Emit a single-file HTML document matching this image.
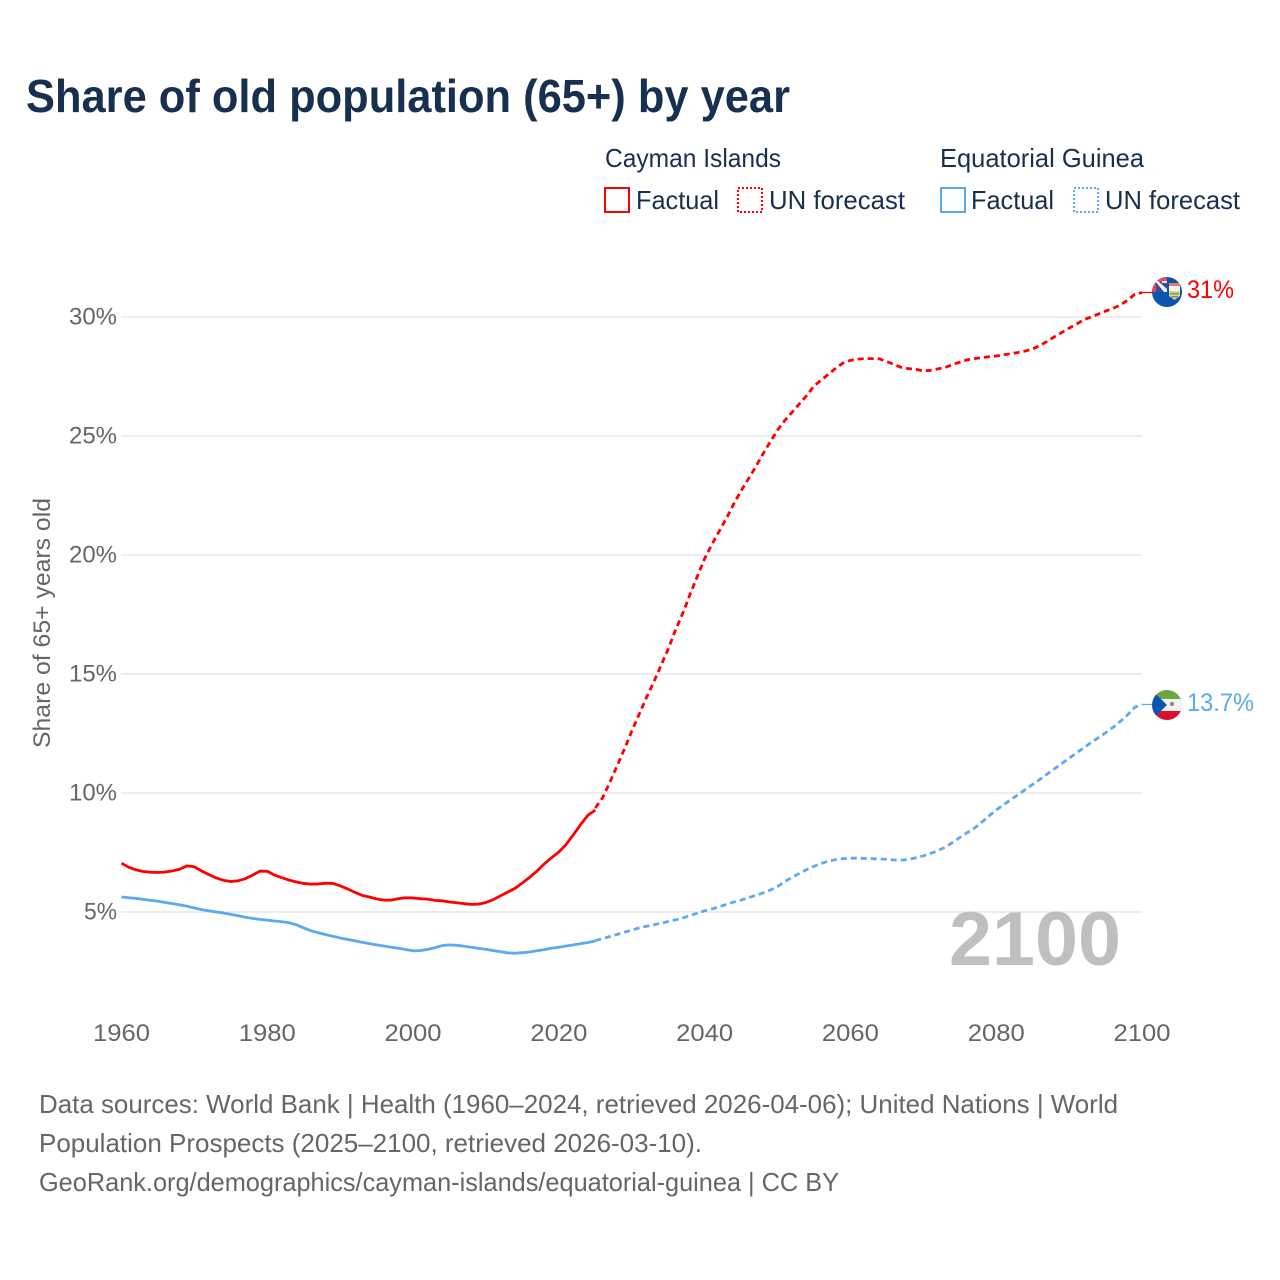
<!DOCTYPE html>
<html lang="en">
<head>
<meta charset="utf-8">
<title>Share of old population (65+) by year</title>
<style>
html,body{margin:0;padding:0;background:#fff;}
svg{display:block;}
text{font-family:"Liberation Sans",sans-serif;}
</style>
</head>
<body>
<svg id="chart" xmlns="http://www.w3.org/2000/svg" width="1280" height="1280" viewBox="0 0 1280 1280">
  <defs>
    <clipPath id="clip-ky"><circle cx="1167" cy="292" r="15"/></clipPath>
    <clipPath id="clip-gq"><circle cx="1167" cy="705" r="15"/></clipPath>
  </defs>
  <rect width="1280" height="1280" fill="#fff"/>
  <text x="26" y="112" font-size="46" font-weight="bold" fill="#18304f" textLength="764" lengthAdjust="spacingAndGlyphs">Share of old population (65+) by year</text>

  <g fill="#18304f" font-size="26">
    <text x="605" y="167" textLength="176" lengthAdjust="spacingAndGlyphs">Cayman Islands</text>
    <rect x="605" y="188" width="24" height="24" fill="none" stroke="#ff0000" stroke-width="2"/>
    <text x="636" y="209" textLength="83" lengthAdjust="spacingAndGlyphs">Factual</text>
    <rect x="738" y="188" width="24" height="24" fill="none" stroke="#ff0000" stroke-width="2" stroke-dasharray="2 2"/>
    <text x="769" y="209" textLength="136" lengthAdjust="spacingAndGlyphs">UN forecast</text>
    <text x="940" y="167" textLength="204" lengthAdjust="spacingAndGlyphs">Equatorial Guinea</text>
    <rect x="941" y="188" width="24" height="24" fill="none" stroke="#5ea8ee" stroke-width="2"/>
    <text x="971" y="209" textLength="83" lengthAdjust="spacingAndGlyphs">Factual</text>
    <rect x="1074" y="188" width="24" height="24" fill="none" stroke="#5ea8ee" stroke-width="2" stroke-dasharray="2 2"/>
    <text x="1105" y="209" textLength="135" lengthAdjust="spacingAndGlyphs">UN forecast</text>
  </g>

  <text transform="translate(50,623) rotate(-90)" text-anchor="middle" font-size="24" fill="#666" textLength="250" lengthAdjust="spacingAndGlyphs">Share of 65+ years old</text>

  <g id="grid"></g>
  <g id="yticks"></g>
  <g id="xticks"></g>

  <text x="949" y="965" font-size="76" font-weight="bold" fill="#bfbfbf" textLength="172" lengthAdjust="spacingAndGlyphs">2100</text>

  <g id="series"></g>

  <g clip-path="url(#clip-ky)">
    <rect x="1152" y="277" width="30" height="30" fill="#0a55ad"/>
    <rect x="1152" y="277" width="15" height="15" fill="#dd4a60"/>
    <rect x="1156" y="282" width="11" height="10" fill="#34508f"/>
    <path d="M1155 281H1158L1167 289V292H1164Z" fill="#f3eef0"/>
    <path d="M1162 281H1167V283H1162Z" fill="#f0dfe3"/>
    <rect x="1169" y="283" width="11" height="3" fill="#e87a6e"/>
    <rect x="1169" y="286" width="11" height="5" fill="#f4f4f4"/>
    <path d="M1169 291H1180V296L1174.5 300L1169 296Z" fill="#ecd75a"/>
    <rect x="1170" y="293" width="9" height="1.4" fill="#5a8fd0"/>
    <rect x="1171" y="296" width="7" height="1.4" fill="#5a8fd0"/>
  </g>
  <g clip-path="url(#clip-gq)">
    <rect x="1152" y="690" width="30" height="9" fill="#6ea644"/>
    <rect x="1152" y="699" width="30" height="12" fill="#f2f2f2"/>
    <rect x="1152" y="711" width="30" height="9" fill="#dc0f2f"/>
    <path d="M1152 690L1167 705L1152 720Z" fill="#0a55ad"/>
    <circle cx="1172" cy="704" r="2" fill="#7d8a72"/>
  </g>

  <text x="1187" y="298" font-size="25" fill="#ff0000" textLength="47" lengthAdjust="spacingAndGlyphs">31%</text>
  <text x="1187" y="711" font-size="25" fill="#5ea8ee" textLength="67" lengthAdjust="spacingAndGlyphs">13.7%</text>

  <g font-size="26" fill="#666">
    <text x="39" y="1113" textLength="1079" lengthAdjust="spacingAndGlyphs">Data sources: World Bank | Health (1960–2024, retrieved 2026-04-06); United Nations | World</text>
    <text x="39" y="1152" textLength="663" lengthAdjust="spacingAndGlyphs">Population Prospects (2025–2100, retrieved 2026-03-10).</text>
    <text x="39" y="1191" textLength="800" lengthAdjust="spacingAndGlyphs">GeoRank.org/demographics/cayman-islands/equatorial-guinea | CC BY</text>
  </g>
</svg>
<script>
const yTickValues = [5, 10, 15, 20, 25, 30];
const xTickYears = [1960, 1980, 2000, 2020, 2040, 2060, 2080, 2100];
const factualStartYear = 1960;
const forecastStartYear = 2025;
const caymanFactual = [
  7.05,6.88,6.77,6.70,6.67,6.66,6.68,6.73,6.80,6.94,
  6.90,6.72,6.57,6.43,6.33,6.28,6.31,6.40,6.55,6.72,
  6.71,6.55,6.44,6.34,6.26,6.20,6.17,6.18,6.21,6.20,
  6.10,5.97,5.83,5.70,5.63,5.55,5.50,5.50,5.56,5.60,
  5.59,5.56,5.54,5.49,5.47,5.42,5.39,5.35,5.32,5.33,
  5.40,5.52,5.68,5.84,6.00,6.22,6.46,6.72,7.02,7.28,
  7.52,7.84,8.25,8.68,9.07,9.28
];
const caymanForecast = [
  9.37,9.80,10.45,11.15,11.85,
  12.60,13.30,14.00,14.65,15.35,16.05,16.85,17.55,18.35,19.10,
  19.85,20.45,21.00,21.55,22.15,22.70,23.20,23.70,24.25,24.75,
  25.25,25.65,26.00,26.35,26.70,27.10,27.35,27.60,27.85,28.07,
  28.18,28.23,28.25,28.25,28.24,28.13,28.00,27.88,27.83,27.80,
  27.73,27.76,27.82,27.88,28.00,28.10,28.20,28.25,28.29,28.33,
  28.36,28.41,28.46,28.51,28.57,28.66,28.80,28.98,29.17,29.35,
  29.53,29.70,29.88,30.00,30.12,30.25,30.36,30.50,30.70,30.95,
  31.03
];
const guineaFactual = [
  5.63,5.60,5.57,5.53,5.49,5.45,5.40,5.35,5.30,5.24,
  5.17,5.10,5.05,5.00,4.96,4.90,4.84,4.78,4.73,4.69,
  4.66,4.62,4.59,4.55,4.46,4.33,4.21,4.13,4.05,3.98,
  3.91,3.85,3.79,3.73,3.67,3.62,3.57,3.52,3.48,3.42,
  3.37,3.38,3.43,3.50,3.59,3.62,3.60,3.56,3.52,3.47,
  3.43,3.38,3.33,3.28,3.27,3.29,3.32,3.37,3.42,3.48,
  3.52,3.57,3.62,3.67,3.72,3.78
];
const guineaForecast = [
  3.80,3.88,3.97,4.06,4.15,
  4.24,4.33,4.40,4.46,4.53,4.60,4.67,4.75,4.85,4.95,
  5.05,5.13,5.22,5.32,5.42,5.50,5.60,5.70,5.80,5.92,
  6.07,6.28,6.46,6.62,6.78,6.92,7.04,7.14,7.20,7.24,
  7.26,7.26,7.25,7.24,7.23,7.21,7.19,7.18,7.21,7.28,
  7.36,7.46,7.58,7.72,7.92,8.13,8.33,8.52,8.77,9.03,
  9.29,9.50,9.72,9.93,10.15,10.36,10.57,10.80,11.02,11.24,
  11.46,11.68,11.90,12.11,12.32,12.53,12.75,13.00,13.28,13.60,
  13.72
];

const NS = 'http://www.w3.org/2000/svg';
function xScale(year) { return 121.5 + (year - 1960) * (1142 - 121.5) / 140; }
function yScale(v) { return 912 - (v - 5) * 23.8; }
function make(tag, attrs, parent, content) {
  const el = document.createElementNS(NS, tag);
  for (const k in attrs) el.setAttribute(k, attrs[k]);
  if (content !== undefined) el.textContent = content;
  parent.appendChild(el);
  return el;
}
const grid = document.getElementById('grid');
const yticks = document.getElementById('yticks');
const xticks = document.getElementById('xticks');
const seriesGroup = document.getElementById('series');

yTickValues.forEach(function (v) {
  const line = make('line', {x1: 121, x2: 1142, y1: yScale(v), y2: yScale(v), stroke: '#e7e7e7', 'stroke-width': 1.5}, grid);
  
  
  const label = make('text', {x: 117, y: yScale(v) + 7.5, 'text-anchor': 'end', 'font-size': 24, fill: '#666', textLength: v < 10 ? 33 : 48, lengthAdjust: 'spacingAndGlyphs'}, yticks, v + '%');
  
  
});
xTickYears.forEach(function (yr) {
  const label = make('text', {x: xScale(yr), y: 1041, 'text-anchor': 'middle', 'font-size': 24, fill: '#666', textLength: 57, lengthAdjust: 'spacingAndGlyphs'}, xticks, String(yr));
  
  
});

function linePoints(values, startYear) {
  return values.map(function (v, i) { return xScale(startYear + i).toFixed(2) + ',' + yScale(v).toFixed(2); }).join(' ');
}
function drawSeries(values, startYear, color, dash, name) {
  const attrs = {points: linePoints(values, startYear), fill: 'none', stroke: color, 'stroke-width': 2.8, 'stroke-linejoin': 'round', 'stroke-linecap': 'butt'};
  if (dash) attrs['stroke-dasharray'] = dash;
  const pl = make('polyline', attrs, seriesGroup);
  
  
}
drawSeries(caymanFactual, factualStartYear, '#ff0000', null, 'line-cayman-factual');
drawSeries(caymanForecast, forecastStartYear, '#ff0000', '6 4', 'line-cayman-forecast');
drawSeries(guineaFactual, factualStartYear, '#5ea8ee', null, 'line-guinea-factual');
drawSeries(guineaForecast, forecastStartYear, '#5ea8ee', '6 4', 'line-guinea-forecast');

function connector(values, color, name) {
  const last = values[values.length - 1];
  const c = make('line', {x1: xScale(2100), x2: 1153, y1: yScale(last), y2: yScale(last), stroke: color, 'stroke-width': 1.2}, seriesGroup);
  
  
}
connector(caymanForecast, '#ff0000', 'connector-cayman');
connector(guineaForecast, '#5ea8ee', 'connector-guinea');
</script>
</body>
</html>
